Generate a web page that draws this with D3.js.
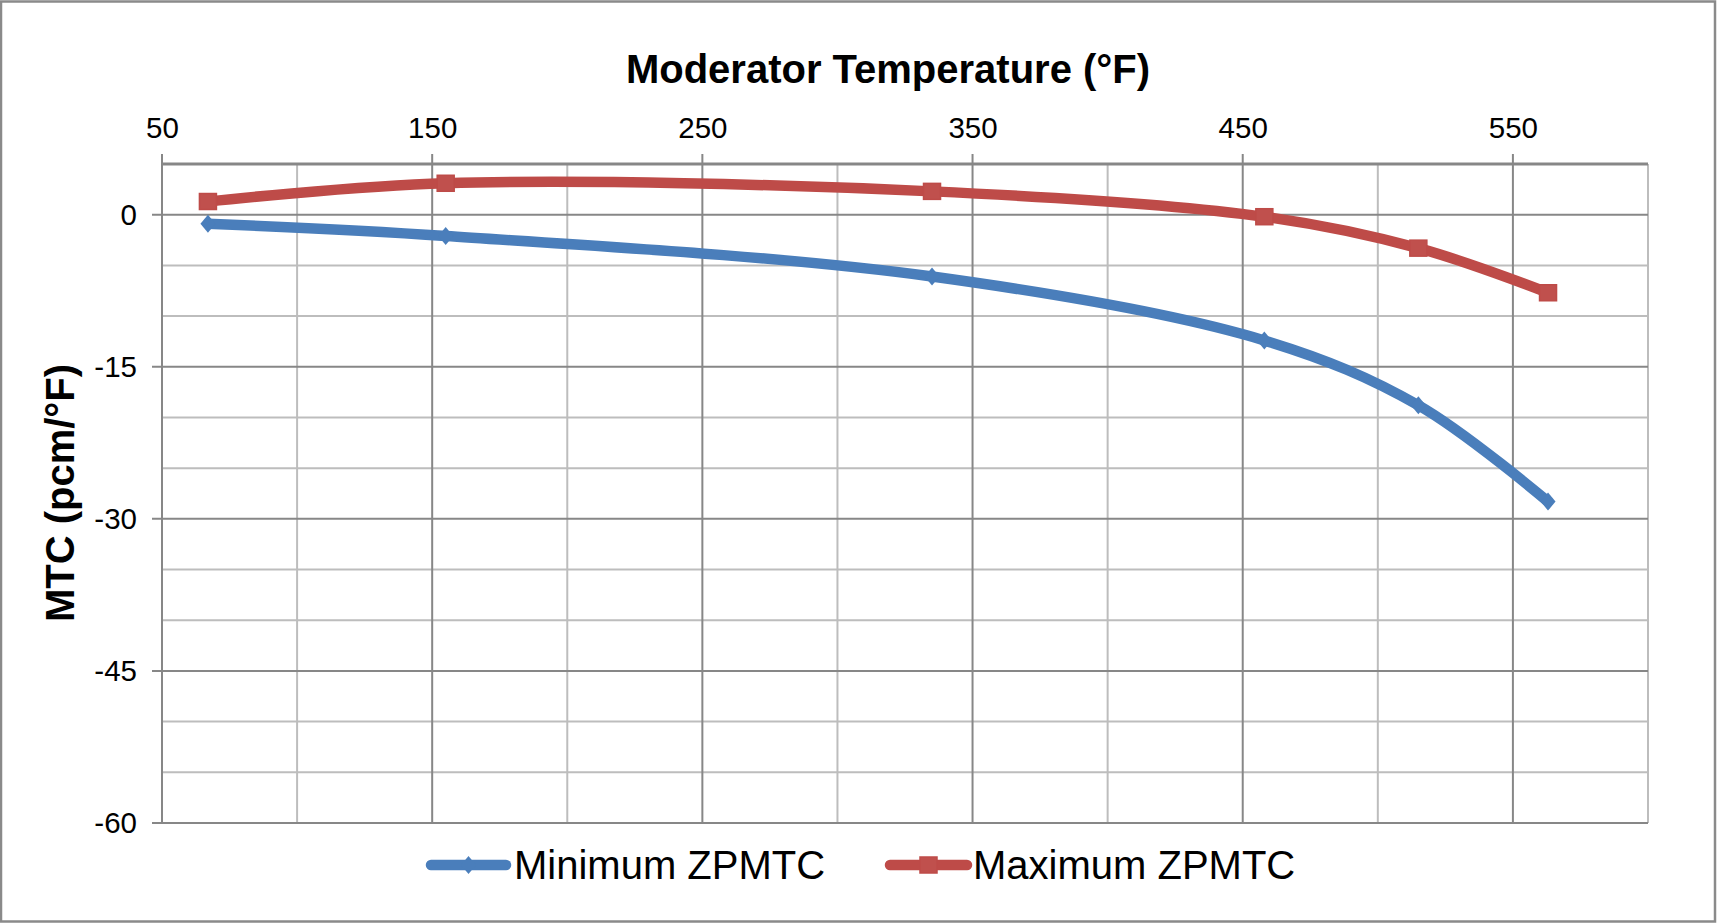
<!DOCTYPE html>
<html>
<head>
<meta charset="utf-8">
<script src="https://cdn.jsdelivr.net/npm/d3@7"></script>
<style>
  html, body { margin: 0; padding: 0; background: #fff; }
  svg text { font-family: "Liberation Sans", Arial, sans-serif; fill: #000; }
</style>
</head>
<body>
<svg id="chart" width="1717" height="923"></svg>
<script>
// Moderator temperature (°F) at each state point
const temperatures = [67, 155, 335, 458, 515, 563];
// Zero-power MTC bounds (pcm/°F)
const minZPMTC = [-0.9, -2.1, -6.1, -12.4, -18.8, -28.3];
const maxZPMTC = [1.3, 3.1, 2.3, -0.2, -3.3, -7.7];
const seriesNames = ["Minimum ZPMTC", "Maximum ZPMTC"];
const xTicks = [50, 150, 250, 350, 450, 550];
const yTicks = [0, -15, -30, -45, -60];

const W = 1717, H = 923;
const plot = { left: 162, right: 1648, top: 164, bottom: 823 };

const svg = d3.select("#chart");

// outer chart frame
svg.append("rect")
  .attr("x", 1).attr("y", 1.5)
  .attr("width", W - 3).attr("height", H - 3)
  .attr("fill", "#fff").attr("stroke", "#8a8a8a").attr("stroke-width", 2.5);

const x = d3.scaleLinear().domain([50, 600]).range([plot.left, plot.right]);
const y = d3.scaleLinear().domain([-60, 5]).range([plot.bottom, plot.top]);

const minorX = d3.range(50, 601, 50);
const minorY = d3.range(-60, 6, 5);

const grid = svg.append("g");
// light minor gridlines
grid.selectAll("line.vx").data(minorX.filter(v => v % 100 !== 50))
  .join("line")
  .attr("x1", d => x(d)).attr("x2", d => x(d))
  .attr("y1", plot.top).attr("y2", plot.bottom)
  .attr("stroke", "#bdbdbd").attr("stroke-width", 2);
grid.selectAll("line.hy").data(minorY.filter(v => v % 15 !== 0 && v !== 5))
  .join("line")
  .attr("x1", plot.left).attr("x2", plot.right)
  .attr("y1", d => y(d)).attr("y2", d => y(d))
  .attr("stroke", "#bdbdbd").attr("stroke-width", 2);
// darker major gridlines (extended outward as tick marks)
svg.append("g").selectAll("line").data(xTicks)
  .join("line")
  .attr("x1", d => x(d)).attr("x2", d => x(d))
  .attr("y1", plot.top - 10).attr("y2", plot.bottom)
  .attr("stroke", "#878787").attr("stroke-width", 2);
svg.append("g").selectAll("line").data(yTicks)
  .join("line")
  .attr("x1", plot.left - 10).attr("x2", plot.right)
  .attr("y1", d => y(d)).attr("y2", d => y(d))
  .attr("stroke", "#878787").attr("stroke-width", 2);
// top axis line
svg.append("line")
  .attr("x1", plot.left).attr("x2", plot.right)
  .attr("y1", y(5)).attr("y2", y(5))
  .attr("stroke", "#878787").attr("stroke-width", 3);

// axis labels
const xAxis = d3.axisTop(x).tickValues(xTicks).tickSize(0).tickPadding(0);
const gx = svg.append("g").attr("transform", `translate(0,${plot.top - 26})`).call(xAxis);
gx.select(".domain").remove();
gx.selectAll("text").attr("font-size", 29.5).attr("font-family", "Liberation Sans, Arial, sans-serif").attr("fill", "#000");

const yAxis = d3.axisLeft(y).tickValues(yTicks).tickSize(0).tickPadding(0)
  .tickFormat(d => String(d));
const gy = svg.append("g").attr("transform", `translate(${plot.left - 25},0)`).call(yAxis);
gy.select(".domain").remove();
gy.selectAll("text").attr("font-size", 29.5).attr("font-family", "Liberation Sans, Arial, sans-serif").attr("fill", "#000");

// titles
svg.append("text")
  .attr("x", 888).attr("y", 83)
  .attr("text-anchor", "middle")
  .attr("font-size", 40).attr("font-weight", "bold")
  .text("Moderator Temperature (°F)");
svg.append("text")
  .attr("transform", "translate(74,493) rotate(-90)")
  .attr("text-anchor", "middle")
  .attr("font-size", 40).attr("font-weight", "bold")
  .text("MTC (pcm/°F)");

const colors = ["#4A7EBB", "#BE4B48"];
const series = [
  temperatures.map((t, i) => [t, minZPMTC[i]]),
  temperatures.map((t, i) => [t, maxZPMTC[i]])
];

const line = d3.line()
  .x(d => x(d[0])).y(d => y(d[1]))
  .curve(d3.curveCatmullRom.alpha(0.5));

const diamond = (cx, cy) => `M${cx},${cy - 9}L${cx + 7.5},${cy}L${cx},${cy + 9}L${cx - 7.5},${cy}Z`;

series.forEach((pts, s) => {
  svg.append("path")
    .attr("d", line(pts))
    .attr("fill", "none")
    .attr("stroke", colors[s])
    .attr("stroke-width", 10.5)
    .attr("stroke-linecap", "round")
    .attr("stroke-linejoin", "round");
  const mk = svg.append("g");
  if (s === 0) {
    mk.selectAll("path").data(pts).join("path")
      .attr("d", d => diamond(x(d[0]), y(d[1])))
      .attr("fill", colors[0]);
  } else {
    mk.selectAll("rect").data(pts).join("rect")
      .attr("x", d => x(d[0]) - 8.5).attr("y", d => y(d[1]) - 8)
      .attr("width", 17).attr("height", 16)
      .attr("fill", "#C0504D").attr("stroke", colors[1]).attr("stroke-width", 1.5);
  }
});

// legend
const legend = [
  { name: seriesNames[0], color: colors[0], x0: 431, x1: 506, tx: 514 },
  { name: seriesNames[1], color: colors[1], x0: 890, x1: 967, tx: 973 }
];
legend.forEach((l, i) => {
  const g = svg.append("g");
  const ly = 865;
  g.append("line")
    .attr("x1", l.x0).attr("x2", l.x1).attr("y1", ly).attr("y2", ly)
    .attr("stroke", l.color).attr("stroke-width", 10.5).attr("stroke-linecap", "round");
  const cx = (l.x0 + l.x1) / 2;
  if (i === 0) {
    g.append("path").attr("d", diamond(cx, ly)).attr("fill", l.color);
  } else {
    g.append("rect").attr("x", cx - 8.5).attr("y", ly - 8).attr("width", 17).attr("height", 16)
      .attr("fill", "#C0504D").attr("stroke", l.color).attr("stroke-width", 1.5);
  }
  g.append("text").attr("x", l.tx).attr("y", 879)
    .attr("font-size", 40).text(l.name);
});
</script>
</body>
</html>
